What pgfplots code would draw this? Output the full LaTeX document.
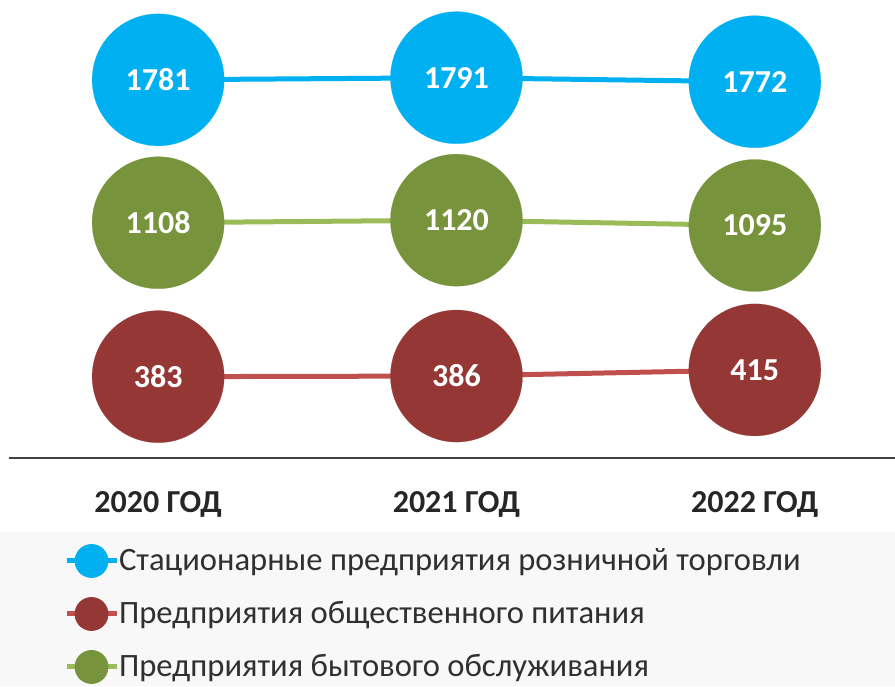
\documentclass[border=0pt]{standalone}
\usepackage{pgfplots}
\pgfplotsset{compat=1.18}
\usepackage{fontspec}
\setmainfont{Carlito}
\definecolor{cblue}{HTML}{00B0F0}
\definecolor{cred}{HTML}{953735}
\definecolor{credline}{HTML}{C0504D}
\definecolor{cgreen}{HTML}{77933C}
\definecolor{cgreenline}{HTML}{9BBB59}
\definecolor{legbg}{HTML}{F8F8F8}
\definecolor{axisgray}{HTML}{404040}
\definecolor{labgray}{HTML}{262626}
\definecolor{legtext}{HTML}{303030}
\begin{document}
\begin{tikzpicture}
\path[use as bounding box] (0,0) rectangle (447.5pt,343pt);
\fill[legbg] (0,0) rectangle (447.5pt,77pt);
\begin{axis}[
  at={(4.5pt,114pt)}, anchor=south west,
  scale only axis, width=443pt, height=229pt,
  xmin=-0.5, xmax=2.47, ymin=0, ymax=2157,
  clip=false,
  axis x line=bottom, axis y line=none,
  x axis line style={-, draw=axisgray, line width=1pt},
  xtick={0,1,2}, xticklabels={2020 ГОД,2021 ГОД,2022 ГОД},
  major tick length=0pt,
  xticklabel style={anchor=base, yshift=-27pt, font=\fontsize{16}{16}\selectfont\bfseries, text=labgray},
  nodes near coords, point meta=explicit symbolic,
  every node near coord/.append style={anchor=center, font=\fontsize{16}{16}\selectfont\bfseries, text=white},
  legend style={at={(0.0621,-0.1670)}, anchor=north west, draw=none, fill=none,
    inner sep=0pt, outer sep=0pt, row sep=0pt,
    font=\fontsize{16.3}{16.3}\selectfont, text=legtext,
    nodes={inner sep=0pt, text height=17.95pt, text depth=8.55pt}},
  legend cell align=left,
]
\addplot[forget plot, draw=cblue, line width=2.5pt, mark=*, mark size=33pt, mark options={draw=cblue, fill=cblue, line width=0.1pt}]
  coordinates {(0,1781) [1781] (1,1791) [1791] (2,1772) [1772]};
\addplot[forget plot, draw=cgreenline, line width=2.5pt, mark=*, mark size=33pt, mark options={draw=cgreen, fill=cgreen, line width=0.1pt}]
  coordinates {(0,1108) [1108] (1,1120) [1120] (2,1095) [1095]};
\addplot[forget plot, draw=credline, line width=2.5pt, mark=*, mark size=33pt, mark options={draw=cred, fill=cred, line width=0.1pt}]
  coordinates {(0,383) [383] (1,386) [386] (2,415) [415]};
\addlegendimage{legend image code/.code={\draw[cblue, line width=2.5pt] (0pt,0pt) -- (25pt,0pt); \fill[cblue] (12.5pt,0pt) circle (8.25pt);}}
\addlegendentry{Стационарные предприятия розничной торговли}
\addlegendimage{legend image code/.code={\draw[credline, line width=2.5pt] (0pt,0pt) -- (25pt,0pt); \fill[cred] (12.5pt,0pt) circle (8.25pt);}}
\addlegendentry{Предприятия общественного питания}
\addlegendimage{legend image code/.code={\draw[cgreenline, line width=2.5pt] (0pt,0pt) -- (25pt,0pt); \fill[cgreen] (12.5pt,0pt) circle (8.25pt);}}
\addlegendentry{Предприятия бытового обслуживания}
\end{axis}
\end{tikzpicture}
\end{document}
